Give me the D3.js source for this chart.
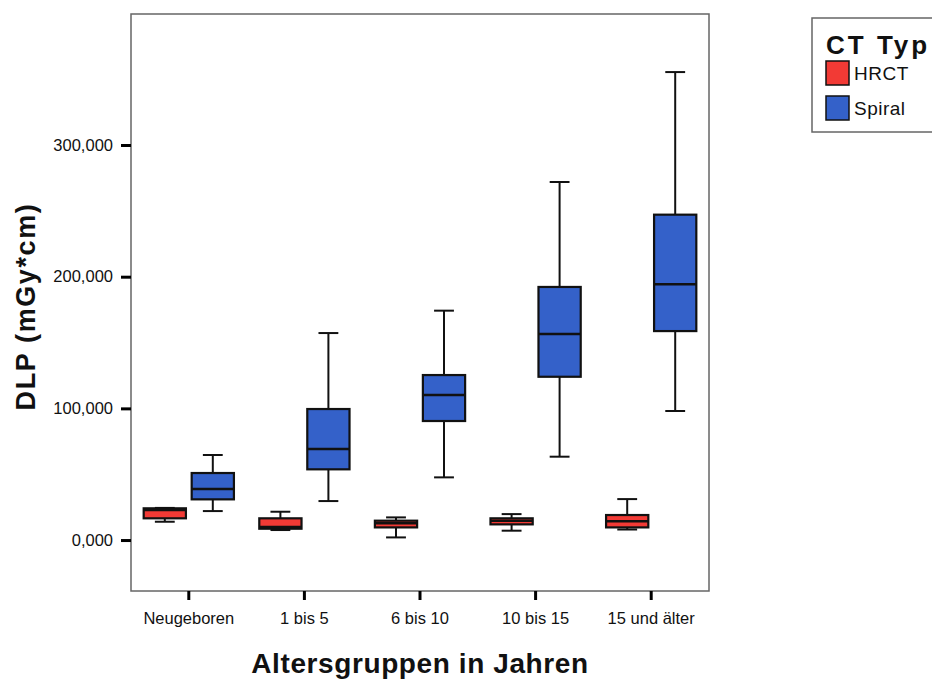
<!DOCTYPE html>
<html>
<head>
<meta charset="utf-8">
<script src="https://cdn.jsdelivr.net/npm/d3@7"></script>
<style>
body { margin: 0; background: #fff; }
</style>
</head>
<body>
<script>
const width = 932;
const height = 681;

// data (DLP in mGy*cm)
const categories = ['Neugeboren', '1 bis 5', '6 bis 10', '10 bis 15', '15 und älter'];
const groups = ['HRCT', 'Spiral'];
const colors = ['#f23a35', '#3461c9'];

const hrctMin    = [13.9, 7.6, 2.0, 7.1, 8.0];
const hrctQ1     = [16.5, 8.6, 9.6, 11.9, 9.6];
const hrctMedian = [22.8, 9.9, 12.7, 14.7, 14.2];
const hrctQ3     = [24.1, 16.5, 14.7, 16.5, 19.0];
const hrctMax    = [24.4, 21.5, 17.2, 19.7, 31.1];

const spiralMin    = [22.0, 29.6, 47.6, 63.3, 98.0];
const spiralQ1     = [30.9, 53.7, 90.4, 124.0, 158.7];
const spiralMedian = [38.7, 69.1, 110.1, 156.5, 194.2];
const spiralQ3     = [50.9, 99.5, 125.3, 192.2, 247.1];
const spiralMax    = [64.6, 157.2, 174.2, 271.9, 355.4];

const yTicks = [0, 100, 200, 300];

const margin = {top: 14, right: 223, bottom: 90, left: 131};

const svg = d3.select('body').append('svg')
    .attr('width', width)
    .attr('height', height);

const x = d3.scaleBand().domain(categories)
    .range([margin.left, width - margin.right]);
const bw = x.bandwidth();
const xInner = d3.scaleBand().domain(groups)
    .range([bw / 2 - 48, bw / 2 + 48]);

const y = d3.scaleLinear().domain([-38.7, 399.5])
    .range([height - margin.bottom, margin.top]);

const de = d3.formatLocale({decimal: ',', thousands: '.', grouping: [3], currency: ['', '€']});

// frame
svg.append('rect')
    .attr('x', margin.left).attr('y', margin.top)
    .attr('width', width - margin.left - margin.right)
    .attr('height', height - margin.top - margin.bottom)
    .attr('fill', 'none')
    .attr('stroke', '#666')
    .attr('stroke-width', 1.5);

// y axis
const yAxis = svg.append('g')
    .attr('transform', `translate(${margin.left},0)`)
    .call(d3.axisLeft(y).tickValues(yTicks).tickFormat(de.format('.3f')).tickSize(10).tickPadding(8));
yAxis.select('.domain').remove();
yAxis.selectAll('.tick line').attr('stroke', '#000').attr('stroke-width', 3);
yAxis.selectAll('.tick text')
    .attr('font-family', 'Liberation Sans, Arial, sans-serif')
    .attr('font-size', 16.5)
    .attr('fill', '#111');

// x axis
const xAxis = svg.append('g')
    .attr('transform', `translate(0,${height - margin.bottom})`)
    .call(d3.axisBottom(x).tickSize(9).tickPadding(12));
xAxis.select('.domain').remove();
xAxis.selectAll('.tick line').attr('stroke', '#000').attr('stroke-width', 3);
xAxis.selectAll('.tick text')
    .attr('font-family', 'Liberation Sans, Arial, sans-serif')
    .attr('font-size', 16.5)
    .attr('fill', '#111');

// boxes
const rows = [];
categories.forEach((c, i) => {
  rows.push({cat: c, grp: 'HRCT', min: hrctMin[i], q1: hrctQ1[i], med: hrctMedian[i], q3: hrctQ3[i], max: hrctMax[i]});
  rows.push({cat: c, grp: 'Spiral', min: spiralMin[i], q1: spiralQ1[i], med: spiralMedian[i], q3: spiralQ3[i], max: spiralMax[i]});
});

const boxW = xInner.bandwidth() * 0.88;
const capW = boxW * 0.47;

const bx = svg.selectAll('.box')
    .data(rows)
    .enter().append('g')
    .attr('class', 'box')
    .attr('transform', d => `translate(${x(d.cat) + xInner(d.grp) + xInner.bandwidth() / 2},0)`);

bx.append('line')
    .attr('y1', d => y(d.max)).attr('y2', d => y(d.q3))
    .attr('stroke', '#111').attr('stroke-width', 2);
bx.append('line')
    .attr('y1', d => y(d.q1)).attr('y2', d => y(d.min))
    .attr('stroke', '#111').attr('stroke-width', 2);
bx.append('line')
    .attr('x1', -capW / 2).attr('x2', capW / 2)
    .attr('y1', d => y(d.max)).attr('y2', d => y(d.max))
    .attr('stroke', '#111').attr('stroke-width', 2);
bx.append('line')
    .attr('x1', -capW / 2).attr('x2', capW / 2)
    .attr('y1', d => y(d.min)).attr('y2', d => y(d.min))
    .attr('stroke', '#111').attr('stroke-width', 2);
bx.append('rect')
    .attr('x', -boxW / 2).attr('width', boxW)
    .attr('y', d => y(d.q3))
    .attr('height', d => y(d.q1) - y(d.q3))
    .attr('fill', d => colors[groups.indexOf(d.grp)])
    .attr('stroke', '#111').attr('stroke-width', 2.2);
bx.append('line')
    .attr('x1', -boxW / 2).attr('x2', boxW / 2)
    .attr('y1', d => y(d.med)).attr('y2', d => y(d.med))
    .attr('stroke', '#111').attr('stroke-width', 2.5);

// axis titles
svg.append('text')
    .attr('transform', `translate(35,${(margin.top + height - margin.bottom) / 2 + 4}) rotate(-90)`)
    .attr('text-anchor', 'middle')
    .attr('font-family', 'Liberation Sans, Arial, sans-serif')
    .attr('font-weight', 'bold')
    .attr('font-size', 27)
    .attr('letter-spacing', 1.6)
    .attr('fill', '#111')
    .text('DLP (mGy*cm)');

svg.append('text')
    .attr('x', (margin.left + width - margin.right) / 2)
    .attr('y', 673)
    .attr('text-anchor', 'middle')
    .attr('font-family', 'Liberation Sans, Arial, sans-serif')
    .attr('font-weight', 'bold')
    .attr('font-size', 28)
    .attr('letter-spacing', 0.6)
    .attr('fill', '#111')
    .text('Altersgruppen in Jahren');

// legend
const lg = svg.append('g').attr('transform', 'translate(812,18)');
lg.append('rect')
    .attr('width', 140).attr('height', 114)
    .attr('fill', '#fff')
    .attr('stroke', '#666').attr('stroke-width', 1.5);
lg.append('text')
    .attr('x', 14).attr('y', 36)
    .attr('font-family', 'Liberation Sans, Arial, sans-serif')
    .attr('font-weight', 'bold')
    .attr('font-size', 26)
    .attr('letter-spacing', 3)
    .attr('fill', '#111')
    .text('CT Typ');
const li = lg.selectAll('.li')
    .data(groups)
    .enter().append('g')
    .attr('transform', (d, i) => `translate(14,${43 + i * 35})`);
li.append('rect')
    .attr('width', 23).attr('height', 24)
    .attr('fill', (d, i) => colors[i])
    .attr('stroke', '#111').attr('stroke-width', 1.5);
li.append('text')
    .attr('x', 28).attr('y', 19)
    .attr('font-family', 'Liberation Sans, Arial, sans-serif')
    .attr('font-size', 19)
    .attr('letter-spacing', 0.5)
    .attr('fill', '#111')
    .text(d => d);
</script>
</body>
</html>
